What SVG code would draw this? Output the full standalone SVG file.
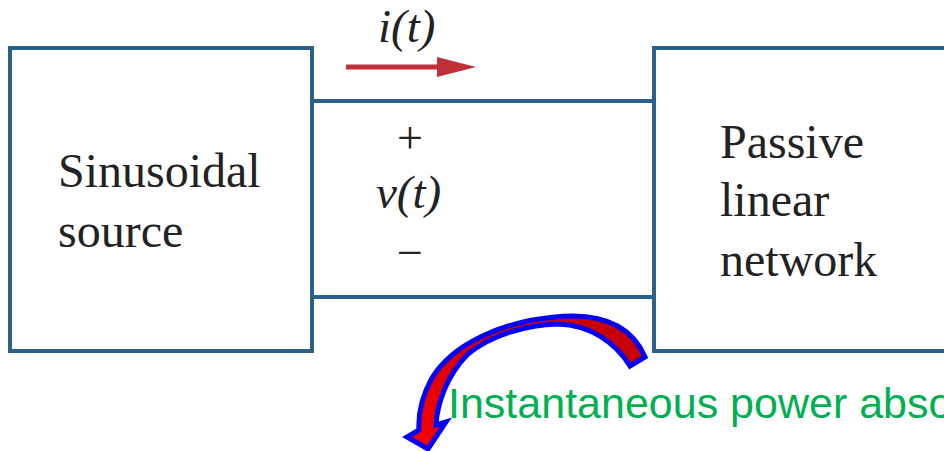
<svg xmlns="http://www.w3.org/2000/svg" width="944" height="451" viewBox="0 0 944 451">
<defs>
<style>
.box{fill:#fff;stroke:#2b5f8c;stroke-width:4}
.wire{stroke:#2b5f8c;stroke-width:4;fill:none}
.lbl{font-family:"Liberation Serif",serif;font-size:48px;fill:#222}
.math{font-family:"Liberation Serif",serif;font-style:italic;font-size:47px;fill:#222}
.sym{font-family:"Liberation Serif",serif;font-size:46px;fill:#222;text-anchor:middle}
.note{font-family:"Liberation Sans",sans-serif;font-size:43px;fill:#00b050}
</style>
<linearGradient id="rg" x1="1" y1="0" x2="0" y2="1">
<stop offset="0" stop-color="#c00000"/>
<stop offset="0.5" stop-color="#d80000"/>
<stop offset="1" stop-color="#ff0000"/>
</linearGradient>
<marker id="ah" markerWidth="8" markerHeight="8" refX="0" refY="4" orient="auto" markerUnits="userSpaceOnUse" viewBox="0 0 8 8">
<path d="M0,0 L8,4 L0,8 Z" fill="#c0303a"/>
</marker>
</defs>
<rect width="944" height="451" fill="#fff"/>
<g id="connectors">
<line class="wire" x1="312" y1="101" x2="654" y2="101"/>
<line class="wire" x1="312" y1="297" x2="654" y2="297"/>
<line x1="346" y1="67" x2="440" y2="67" stroke="#c0303a" stroke-width="5"/>
<path d="M437,57 L476,67 L437,77 Z" fill="#c0303a"/>
</g>
<g id="source">
<rect class="box" x="10" y="48" width="302" height="303"/>
<text class="lbl" x="58" y="187">Sinusoidal</text>
<text class="lbl" x="58" y="247">source</text>
</g>
<g id="network">
<rect class="box" x="654" y="48" width="310" height="303"/>
<text class="lbl" x="720" y="158">Passive</text>
<text class="lbl" x="720" y="216">linear</text>
<text class="lbl" x="720" y="276">network</text>
</g>
<g id="labels">
<text class="math" x="378" y="42">i(t)</text>
<text class="sym" x="410" y="153">+</text>
<text class="math" x="376" y="208">v(t)</text>
<text class="sym" x="410" y="268">−</text>
</g>
<g id="power-arrow">
<path d="M645,357 C630,322 595,313 555,317 C500,322 452,345 432,378 C421,398 418,414 419,430 L407,437 L428,449 L446,422 L436,425 C437,405 446,376 468,354 C493,334 528,325 558,324 C590,325 615,342 630,366 Z" fill="url(#rg)" stroke="#0000ff" stroke-width="5" stroke-linejoin="miter"/>
</g>
<g id="note">
<text class="note" x="448" y="418">Instantaneous power absorbed</text>
</g>
</svg>
